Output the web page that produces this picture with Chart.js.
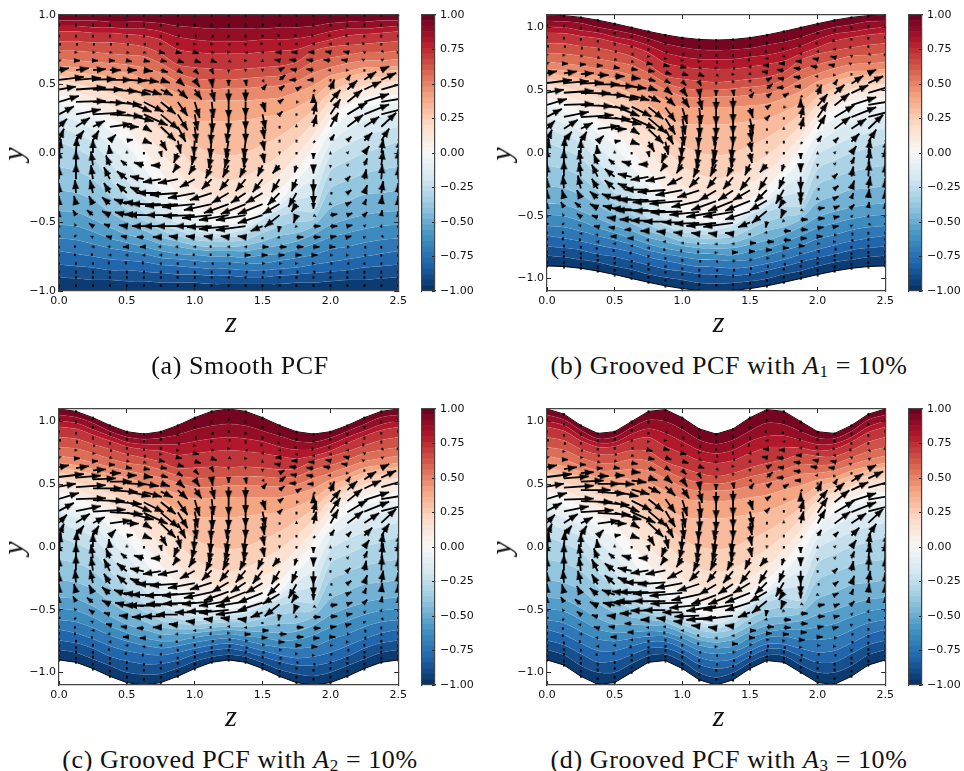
<!DOCTYPE html>
<html>
<head>
<meta charset="utf-8">
<script src="https://cdn.jsdelivr.net/npm/chart.js@4"></script>
<style>
  html, body { margin: 0; padding: 0; background: #fff; overflow: hidden; }
  canvas { position: absolute; }
  .lab { position: absolute; white-space: nowrap; color: #111; font-family: "Liberation Serif", serif; transform: translate(-50%, -50%); }
  .math { font-style: italic; font-size: 30px; }
  .cap { font-size: 26px; letter-spacing: 0.6px; }
  .cap sub { font-size: 17px; line-height: 0; vertical-align: -3px; }
</style>
</head>
<body>
<script>
// tick positions and labels
const zTicks = [0, 0.5, 1, 1.5, 2, 2.5];
const zTickLabels = ['0.0', '0.5', '1.0', '1.5', '2.0', '2.5'];
const yTicks = [-1, -0.5, 0, 0.5, 1];
const yTickLabels = ['\u22121.0', '\u22120.5', '0.0', '0.5', '1.0'];
const barTicks = [-1, -0.75, -0.5, -0.25, 0, 0.25, 0.5, 0.75, 1];
const barTickLabels = ['\u22121.00', '\u22120.75', '\u22120.50', '\u22120.25', '0.00', '0.25', '0.50', '0.75', '1.00'];
const captions = [
  '(a) Smooth PCF',
  '(b) Grooved PCF with <i>A</i><sub>1</sub> = 10%',
  '(c) Grooved PCF with <i>A</i><sub>2</sub> = 10%',
  '(d) Grooved PCF with <i>A</i><sub>3</sub> = 10%'
];

// RdBu_r anchor colours
const cmapValues = [-1, -0.8, -0.6, -0.4, -0.2, 0, 0.2, 0.4, 0.6, 0.8, 1];
const cmapColors = [[5,48,97],[33,102,172],[67,147,195],[146,197,222],[209,229,240],[247,247,247],[253,219,199],[244,165,130],[214,96,77],[178,24,43],[103,0,31]];

// colorbar band edges
const barLevels = [-1,-0.96,-0.92,-0.88,-0.84,-0.8,-0.76,-0.72,-0.68,-0.64,-0.6,-0.56,-0.52,-0.48,-0.44,-0.4,-0.36,-0.32,-0.28,-0.24,-0.2,-0.16,-0.12,-0.08,-0.04,0,0.04,0.08,0.12,0.16,0.2,0.24,0.28,0.32,0.36,0.4,0.44,0.48,0.52,0.56,0.6,0.64,0.68,0.72,0.76,0.8,0.84,0.88,0.92,0.96,1];

// spanwise stations of the grid
const zStations = [0,0.125,0.25,0.375,0.5,0.625,0.75,0.875,1,1.125,1.25,1.375,1.5,1.625,1.75,1.875,2,2.125,2.25,2.375,2.5];

// wall offset read at each station, one list per panel
const wallA = [0,0,0,0,0,0,0,0,0,0,0,0,0,0,0,0,0,0,0,0,0];
const wallB = [0.1,0.095,0.081,0.059,0.031,0,-0.031,-0.059,-0.081,-0.095,-0.1,-0.095,-0.081,-0.059,-0.031,0,0.031,0.059,0.081,0.095,0.1];
const wallC = [0.1,0.081,0.031,-0.031,-0.081,-0.1,-0.081,-0.031,0.031,0.081,0.1,0.081,0.031,-0.031,-0.081,-0.1,-0.081,-0.031,0.031,0.081,0.1];
const wallD = [0.1,0.059,-0.031,-0.095,-0.081,0,0.081,0.095,0.031,-0.059,-0.1,-0.059,0.031,0.095,0.081,0,-0.081,-0.095,-0.031,0.059,0.1];

// contour values, and the height (y*100) of each one at each station
const levelValues = [-1,-0.92,-0.84,-0.76,-0.68,-0.6,-0.52,-0.44,-0.36,-0.28,-0.2,-0.12,-0.04,0.04,0.12,0.2,0.28,0.36,0.44,0.52,0.6,0.68,0.76,0.84,0.92,1];
const levelHeights = [
  [-100,-90,-81,-71,-62,-52,-42,-27,-10,8,19,28,36,42,47,52,56,60,63,68,74,81,88,92,96,100],
  [-100,-91,-82,-73,-63,-53,-43,-29,-13,3,14,23,32,39,44,50,54,58,62,67,74,81,88,92,96,100],
  [-100,-92,-83,-75,-66,-57,-48,-34,-19,-4,8,17,26,33,40,47,53,57,61,66,73,80,87,91,96,100],
  [-100,-92,-85,-77,-69,-62,-54,-43,-31,-19,-7,5,16,26,34,43,50,55,59,65,72,80,87,91,95,100],
  [-100,-93,-85,-78,-71,-65,-59,-50,-41,-32,-20,-7,6,17,27,38,46,52,58,64,71,79,86,90,95,100],
  [-100,-93,-86,-79,-73,-68,-62,-56,-49,-43,-33,-22,-11,2,15,28,39,47,54,62,70,77,85,90,95,100],
  [-100,-94,-87,-81,-76,-71,-66,-61,-56,-51,-44,-35,-26,-14,1,16,29,39,49,58,65,72,82,88,94,100],
  [-100,-94,-88,-82,-77,-73,-68,-64,-60,-56,-51,-46,-40,-29,-14,3,17,30,43,52,58,64,75,84,92,100],
  [-100,-94,-88,-83,-78,-74,-70,-67,-63,-60,-56,-52,-47,-38,-25,-10,6,24,38,47,54,62,73,82,91,100],
  [-100,-95,-89,-84,-79,-75,-71,-68,-64,-61,-58,-54,-51,-43,-31,-17,0,23,38,46,53,61,72,81,90,100],
  [-100,-95,-89,-84,-79,-75,-71,-68,-64,-61,-58,-55,-52,-44,-33,-20,-2,23,38,47,53,60,72,81,90,100],
  [-100,-95,-90,-85,-80,-76,-71,-67,-63,-59,-55,-52,-49,-41,-30,-17,0,24,38,47,54,61,72,81,90,100],
  [-100,-95,-90,-85,-80,-74,-69,-64,-58,-52,-48,-45,-42,-35,-24,-10,6,26,39,48,55,62,73,82,90,100],
  [-100,-95,-89,-84,-78,-73,-67,-60,-53,-46,-41,-38,-35,-27,-16,-2,12,28,40,49,56,63,74,82,91,100],
  [-100,-94,-88,-83,-76,-70,-64,-58,-50,-42,-34,-27,-20,-13,-2,9,21,33,44,52,59,66,75,83,91,100],
  [-100,-94,-87,-81,-74,-66,-59,-53,-48,-42,-30,-18,-6,4,13,22,31,40,49,58,66,74,79,85,92,100],
  [-100,-93,-86,-79,-70,-61,-52,-40,-26,-13,-2,7,16,24,31,38,44,50,56,62,69,77,82,88,94,100],
  [-100,-92,-85,-77,-68,-58,-48,-35,-20,-6,6,17,27,35,40,45,50,55,59,65,71,78,85,90,95,100],
  [-100,-92,-83,-75,-65,-55,-45,-30,-15,0,12,23,33,40,45,49,54,58,62,67,73,79,86,90,95,100],
  [-100,-91,-82,-73,-63,-53,-43,-29,-12,4,16,26,35,42,47,51,55,59,62,67,73,80,87,91,96,100],
  [-100,-90,-81,-71,-62,-52,-42,-27,-10,8,19,28,36,42,47,52,56,60,63,68,74,81,88,92,96,100]
];

// velocity arrows: rows of the grid and both components, in arrow pixels
const arrowRows = [1,0.93,0.85,0.79,0.73,0.67,0.6,0.53,0.46,0.37,0.28,0.19,0.09,0,-0.09,-0.19,-0.29,-0.37,-0.45,-0.53,-0.61,-0.68,-0.74,-0.8,-0.86,-0.9,-0.96,-1];
const arrowU = [
  [0,0,0,0,0,0,0,0,0,0,0,0,0,0,0,0,0,0,0,0,0],
  [0,0,0,0,0,0,0,0,0,0,0,0,0,0,0,0,0,0,0,0,0],
  [0,0,0,0,0,0,0,1,1,1,0,0,0,-1,-1,-1,-1,-1,0,0,0],
  [1,1,1,1,1,1,2,2,2,2,1,0,-1,-2,-2,-2,-2,-2,-1,0,1],
  [2,2,3,3,3,3,4,4,4,3,2,1,-2,-4,-5,-5,-5,-4,-2,1,2],
  [3,4,5,5,5,6,6,6,6,5,3,2,0,-5,-7,-7,-7,-6,-3,3,3],
  [10,13,13,11,10,9,7,5,4,2,0,0,0,5,-6,-7,-3,2,0,8,10],
  [25,25,23,22,20,15,9,7,5,1,0,1,2,6,-7,-6,0,3,12,15,25],
  [17,30,30,28,24,18,12,10,7,3,0,0,4,5,5,1,4,10,17,25,17],
  [20,30,32,32,25,20,15,10,5,2,0,0,3,4,3,0,10,15,25,30,20],
  [15,25,33,33,27,24,18,10,3,1,0,0,3,3,0,3,10,20,25,20,15],
  [8,14,12,22,12,8,15,8,2,-1,-2,0,2,0,0,3,8,16,15,15,8],
  [5,8,6,6,6,8,6,3,-1,-2,-3,-2,2,0,0,1,4,4,8,8,5],
  [2,1,0,-1,0,0,1,-4,-3,-3,-4,-2,2,0,0,0,0,2,5,2,2],
  [0,0,-2,-4,-6,-10,-10,-5,-6,-6,-6,-6,-5,-7,-2,0,0,2,3,2,0],
  [0,0,-2,-6,-10,-14,-18,-20,-15,-10,-9,-10,-10,-8,-5,0,0,3,2,1,0],
  [0,-1,-3,-6,-10,-14,-24,-28,-27,-22,-17,-15,-17,-12,-8,0,1,4,3,2,0],
  [0,-2,-4,-8,-13,-20,-30,-33,-33,-28,-25,-25,-25,-17,-5,0,2,4,2,1,0],
  [0,-3,-6,-8,-12,-20,-33,-32,-32,-30,-30,-30,-25,-15,-3,3,7,5,3,1,0],
  [0,-2,-4,-6,-8,-12,-18,-22,-20,-25,-30,-30,-12,-1,-2,7,7,5,2,1,0],
  [0,-1,-3,-4,-6,-7,-8,-9,-9,-8,-8,-8,0,-3,7,7,6,4,2,1,0],
  [0,-1,-2,-3,-4,-4,-3,-3,-2,-1,-2,-2,6,7,7,6,5,3,1,0,0],
  [0,-1,-1,-2,-2,-2,-2,-1,-1,-1,2,5,5,5,5,4,3,2,1,0,0],
  [0,0,0,-1,-1,-1,0,0,0,1,1,3,3,3,2,2,1,1,0,0,0],
  [0,0,0,0,0,0,0,0,0,0,1,1,1,1,1,1,0,0,0,0,0],
  [0,0,0,0,0,0,0,0,0,0,0,0,0,0,0,0,0,0,0,0,0],
  [0,0,0,0,0,0,0,0,0,0,0,0,0,0,0,0,0,0,0,0,0],
  [0,0,0,0,0,0,0,0,0,0,0,0,0,0,0,0,0,0,0,0,0]
];
const arrowV = [
  [0,0,0,0,0,0,0,0,0,0,0,0,0,0,0,0,0,0,0,0,0],
  [0,0,0,0,0,0,0,0,0,0,0,0,0,0,0,0,0,0,0,0,0],
  [0,0,0,0,0,0,0,0,0,0,0,0,0,0,0,0,0,0,0,0,0],
  [0,0,0,0,0,0,0,0,0,0,0,0,0,0,0,0,0,0,0,0,0],
  [0,0,0,-1,-1,-1,-1,-1,-1,-1,0,0,0,0,0,0,1,1,1,1,0],
  [1,0,0,0,-1,-1,-1,-2,-2,-2,-2,0,2,1,1,1,1,1,2,2,1],
  [2,2,1,0,0,-1,-2,-3,-4,-4,-3,-2,-2,3,1,1,0,0,0,4,2],
  [3,2,1,0,-1,-2,-3,-6,-7,-8,-6,-6,-3,5,0,0,0,5,8,7,3],
  [3,2,0,-2,-5,-5,-6,-9,-10,-12,-13,-12,5,4,3,-1,10,9,8,7,3],
  [6,1,-1,-3,-10,-10,-12,-14,-16,-16,-17,-15,-10,3,0,8,12,12,8,5,6],
  [8,5,2,-2,-7,-11,-15,-16,-16,-18,-18,-16,-15,3,0,12,15,12,10,5,8],
  [8,9,6,3,0,-5,-14,-15,-16,-17,-16,-16,-12,0,3,12,14,12,10,14,8],
  [12,10,10,6,1,-3,-10,-13,-15,-17,-17,-17,-10,0,0,-1,6,4,8,12,12],
  [14,16,14,8,3,0,-4,-10,-12,-15,-15,-14,-10,-2,0,-6,2,2,7,14,14],
  [16,15,14,10,5,3,0,-7,-9,-13,-12,-12,-11,-8,-7,-8,-3,2,7,15,16],
  [13,16,14,12,8,3,-3,-4,-8,-10,-11,-12,-13,-13,-12,-14,0,3,10,15,13],
  [10,13,13,10,9,6,0,-2,-5,-7,-10,-10,-10,-12,-14,-12,0,3,8,12,10],
  [8,8,8,7,5,2,0,-2,-3,-6,-9,-10,-10,-10,-8,-5,-1,2,5,9,8],
  [4,5,5,4,3,1,0,0,-1,-3,-5,-5,-8,-12,-8,-2,1,2,3,5,4],
  [2,3,3,2,1,0,0,0,0,-1,-3,-4,-5,-6,-2,0,0,1,2,2,2],
  [1,1,1,1,1,0,0,1,1,1,1,1,-1,-1,0,0,1,1,1,1,1],
  [0,0,0,0,0,0,0,0,0,0,0,0,0,0,0,0,0,0,0,0,0],
  [0,0,0,0,0,0,0,0,0,0,0,0,0,0,0,0,0,0,0,0,0],
  [0,0,0,0,0,0,0,0,0,0,0,0,0,0,0,0,0,0,0,0,0],
  [0,0,0,0,0,0,0,0,0,0,0,0,0,0,0,0,0,0,0,0,0],
  [0,0,0,0,0,0,0,0,0,0,0,0,0,0,0,0,0,0,0,0,0],
  [0,0,0,0,0,0,0,0,0,0,0,0,0,0,0,0,0,0,0,0,0],
  [0,0,0,0,0,0,0,0,0,0,0,0,0,0,0,0,0,0,0,0,0]
];

// panel layout in page pixels
const panels = [
  { left: 59, right: 401, top: 15, bottom: 291, barLeft: 422, yMin: -1, yMax: 1, wall: wallA, capX: 240, capY: 366 },
  { left: 547, right: 888, top: 15, bottom: 291, barLeft: 909, yMin: -1.1, yMax: 1.1, wall: wallB, capX: 729, capY: 366 },
  { left: 59, right: 401, top: 409, bottom: 685, barLeft: 422, yMin: -1.1, yMax: 1.1, wall: wallC, capX: 240, capY: 760 },
  { left: 547, right: 888, top: 409, bottom: 685, barLeft: 909, yMin: -1.1, yMax: 1.1, wall: wallD, capX: 729, capY: 760 }
];

function cmap(v) {
  let i = 0;
  while (i < cmapValues.length - 2 && v > cmapValues[i + 1]) i++;
  const t = (v - cmapValues[i]) / (cmapValues[i + 1] - cmapValues[i]);
  const c = cmapColors[i].map((a, n) => Math.round(a + (cmapColors[i + 1][n] - a) * t));
  return 'rgb(' + c.join(',') + ')';
}

// grooved domains: the wall offset fades towards the channel centre
function warp(y, offset) {
  return y + offset * y * y;
}

// arrow head with its tip in the middle of the image, so it can sit on the arrow end
function makeHead(len, wid) {
  const c = document.createElement('canvas');
  c.width = len * 2 + 2;
  c.height = wid + 2;
  const g = c.getContext('2d');
  const mx = c.width / 2, my = c.height / 2;
  g.fillStyle = '#000';
  g.beginPath();
  g.moveTo(mx, my);
  g.lineTo(mx - len, my - wid / 2);
  g.lineTo(mx - len, my + wid / 2);
  g.closePath();
  g.fill();
  return c;
}
function makeDot() {
  const c = document.createElement('canvas');
  c.width = 4; c.height = 4;
  const g = c.getContext('2d');
  g.fillStyle = '#000';
  g.fillRect(1, 1, 2, 2.5);
  return c;
}
const heads = [makeDot(), makeHead(3.5, 3), makeHead(6, 5), makeHead(9, 7)];

function headFor(len) {
  if (len < 1.5) return heads[0];
  if (len < 4) return heads[1];
  if (len < 8) return heads[2];
  return heads[3];
}

function axis(position, min, max, ticks, labels, showLabels, tickLen, pad, size) {
  const horizontal = position === 'top' || position === 'bottom';
  return {
    type: 'linear', position, min, max,
    afterBuildTicks: s => { s.ticks = ticks.map(v => ({ value: v })); },
    afterFit: s => { if (horizontal) s.height = size; else s.width = size; },
    grid: { drawOnChartArea: false, drawTicks: true, tickLength: -tickLen, tickColor: '#222', tickWidth: 1, z: 1 },
    border: { display: true, color: '#444', width: 1.2, z: 1 },
    ticks: {
      display: showLabels, autoSkip: false, maxRotation: 0, padding: pad, color: '#111',
      font: { family: 'DejaVu Sans', size: 11 },
      callback: (v, i) => labels[i]
    }
  };
}

function addCanvas(x, y, w, h) {
  const c = document.createElement('canvas');
  c.width = w; c.height = h;
  c.style.left = x + 'px'; c.style.top = y + 'px';
  c.style.width = w + 'px'; c.style.height = h + 'px';
  document.body.appendChild(c);
  return c.getContext('2d');
}

function addLabel(cls, html, x, y, rotate) {
  const d = document.createElement('div');
  d.className = 'lab ' + cls;
  d.innerHTML = html;
  d.style.left = x + 'px';
  d.style.top = y + 'px';
  if (rotate) d.style.transform = 'translate(-50%, -50%) rotate(-90deg)';
  document.body.appendChild(d);
}

function contourDatasets(p) {
  const out = [];
  const bandCount = levelValues.length;
  for (let j = 0; j < bandCount; j++) {
    const isWall = j === 0 || j === bandCount - 1;
    const hasBand = j < bandCount - 1;
    out.push({
      data: zStations.map((z, k) => ({ x: z, y: warp(levelHeights[k][j] / 100, p.wall[k]) })),
      showLine: true,
      pointRadius: 0,
      tension: isWall ? 0 : 0.3,
      borderWidth: isWall ? 1 : 0.5,
      borderColor: isWall ? '#000' : 'rgba(255,255,255,0.3)',
      backgroundColor: hasBand ? cmap((levelValues[j] + levelValues[j + 1]) / 2) : 'transparent',
      fill: hasBand ? '+1' : false,
      order: 10
    });
  }
  return out;
}

function arrowDatasets(p) {
  const perZ = 2.5 / (p.right - p.left);
  const perY = (p.yMax - p.yMin) / (p.bottom - p.top);
  const shafts = [], tips = [], styles = [], angles = [];
  arrowRows.forEach((row, r) => {
    zStations.forEach((z, k) => {
      const u = arrowU[r][k], v = arrowV[r][k];
      const y = warp(row, p.wall[k]);
      const tip = { x: z + u * perZ, y: y + v * perY };
      if (Math.hypot(u, v) >= 4) {
        shafts.push({ x: z, y }, tip, { x: z, y: null });
      }
      tips.push(tip);
      styles.push(headFor(Math.hypot(u, v)));
      angles.push(Math.atan2(-v, u) * 180 / Math.PI);
    });
  });
  return [
    { data: tips, showLine: false, pointRadius: 2, pointHoverRadius: 2, pointBorderWidth: 0,
      pointStyle: c => styles[c.dataIndex], pointRotation: c => angles[c.dataIndex], order: 1 },
    { data: shafts, showLine: true, spanGaps: false, pointRadius: 0, borderColor: '#000', borderWidth: 1.8, fill: false, order: 2 }
  ];
}

panels.forEach(p => {
  const cw = p.right + 14 - (p.left - 59), ch = p.bottom + 24 - (p.top - 15);
  const ox = p.left - 59, oy = p.top - 15;
  new Chart(addCanvas(ox, oy, cw, ch), {
    type: 'scatter',
    data: { datasets: arrowDatasets(p).concat(contourDatasets(p)) },
    options: {
      responsive: false,
      animation: false,
      events: [],
      layout: { padding: { left: 0, top: 15, right: 14, bottom: 0 } },
      plugins: { legend: { display: false }, tooltip: { enabled: false } },
      scales: {
        x: axis('bottom', 0, 2.5, zTicks, zTickLabels, true, 4, 8, 24),
        xTop: axis('top', 0, 2.5, zTicks, zTickLabels, false, 4, 0, 0),
        y: axis('left', p.yMin, p.yMax, yTicks, yTickLabels, true, 4, 7, 59),
        yRight: axis('right', p.yMin, p.yMax, yTicks, yTickLabels, false, 4, 0, 0)
      }
    }
  });

  // colorbar as floating bars
  const barW = 13;
  const barSets = barLevels.slice(0, -1).map((lo, i) => ({
    data: [[lo, barLevels[i + 1]]],
    backgroundColor: cmap((lo + barLevels[i + 1]) / 2),
    borderWidth: 0, grouped: false, barPercentage: 1, categoryPercentage: 1
  }));
  const yBar = axis('right', -1, 1, barTicks, barTickLabels, true, 3, 8, 50);
  const yBarLeft = axis('left', -1, 1, [], [], false, 0, 0, 0);
  const edge = pos => ({
    position: pos, grid: { display: false }, ticks: { display: false },
    border: { display: true, color: '#444', width: 1.2, z: 1 },
    afterFit: s => { s.height = 0; }
  });
  new Chart(addCanvas(p.barLeft - 4, oy, barW + 4 + 50, ch), {
    type: 'bar',
    data: { labels: [''], datasets: barSets },
    options: {
      responsive: false,
      animation: false,
      events: [],
      layout: { padding: { left: 4, top: 15, right: 0, bottom: 24 } },
      plugins: { legend: { display: false }, tooltip: { enabled: false } },
      scales: {
        x: Object.assign({ type: 'category' }, edge('bottom')),
        xTop: Object.assign({ type: 'category', labels: [''] }, edge('top')),
        y: yBar,
        yLeft: yBarLeft
      }
    }
  });

  addLabel('math', 'y', p.left - 46, (p.top + p.bottom) / 2 + 1, true);
  addLabel('math', 'z', (p.left + p.right) / 2 + 1, p.bottom + 31);
});

captions.forEach((text, i) => addLabel('cap', text, panels[i].capX, panels[i].capY));
</script>
</body>
</html>
